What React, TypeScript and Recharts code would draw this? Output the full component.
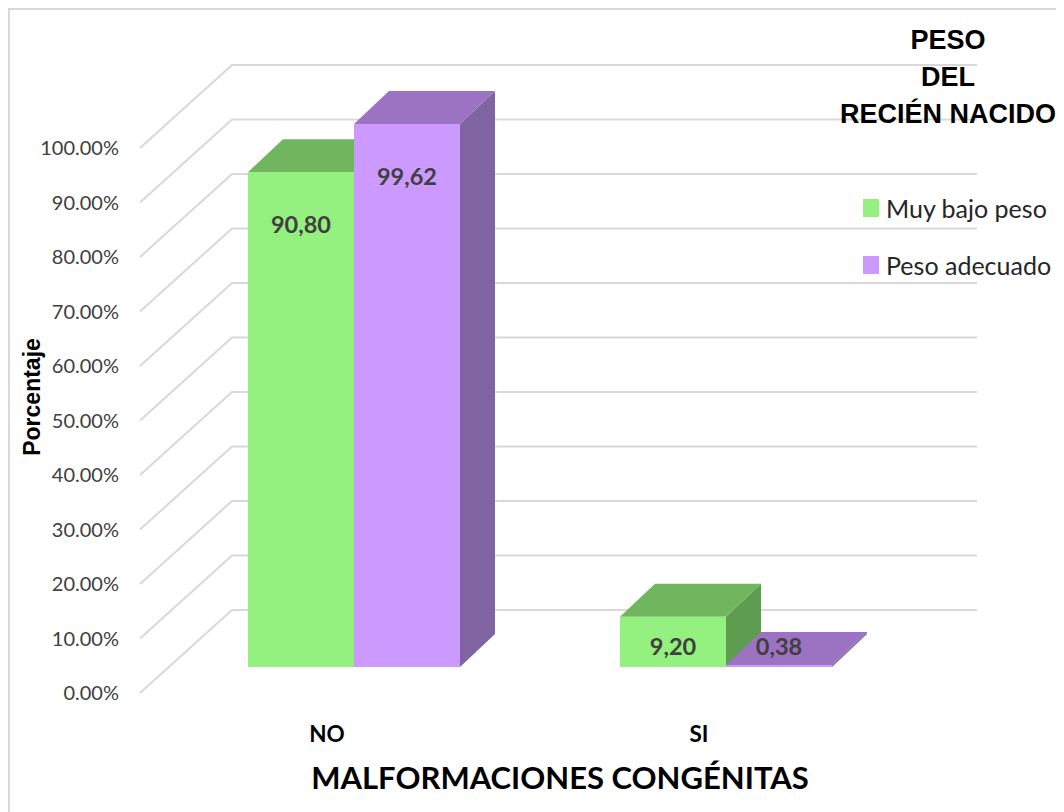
import { BarChart, Bar, XAxis, YAxis, CartesianGrid, Legend, LabelList } from "recharts";

const CATEGORIES = ["NO", "SI"];
const MUY_BAJO_PESO = [90.8, 9.2];
const PESO_ADECUADO = [99.62, 0.38];
const Y_TICKS = [0, 10, 20, 30, 40, 50, 60, 70, 80, 90, 100];
const SERIES_NAMES = ["Muy bajo peso", "Peso adecuado"];
const LEGEND_TITLE = ["PESO", "DEL", "RECIÉN NACIDO"];
const X_TITLE = "MALFORMACIONES CONGÉNITAS";
const Y_TITLE = "Porcentaje";

const data = CATEGORIES.map((name, i) => ({
  name,
  muy: MUY_BAJO_PESO[i],
  adecuado: PESO_ADECUADO[i],
}));

const GREEN = { front: "#95f17f", top: "#70b65f", side: "#5e9c4f" };
const PURPLE = { front: "#cc99ff", top: "#9b73c2", side: "#8064a2" };

// 3d offsets
const DX = 35;
const DY = 33;
const FRONT_DY = 26;
const BACK_DY = 57;

const fmt = (v: number) => v.toFixed(2).replace(".", ",");

const box = (c: { front: string; top: string; side: string }) => (props: any) => {
  const { x, y, width, height } = props;
  const r = x + width;
  const b = y + height;
  return (
    <g>
      <polygon points={`${r},${y} ${r + DX},${y - DY} ${r + DX},${b - DY} ${r},${b}`} fill={c.side} />
      <polygon points={`${x},${y} ${r},${y} ${r + DX},${y - DY} ${x + DX},${y - DY}`} fill={c.top} />
      <rect x={x} y={y} width={width} height={height} fill={c.front} />
    </g>
  );
};

const valueLabel = (props: any) => {
  const { x, y, width, height, value } = props;
  const base = y + height;
  const ty = Math.min(y + 61, base - 12);
  return (
    <text x={x + width / 2} y={ty} textAnchor="middle" fontFamily="Lato" fontWeight={700} fontSize={23.5} fill="#404040">
      {fmt(value)}
    </text>
  );
};

const gridLine = (p: any) => (
  <path
    key={`grid-${p.index}`}
    d={`M${p.x1 - 28},${p.y1 + FRONT_DY} L${p.x1 + 64},${p.y1 - BACK_DY} L${p.x2 + 65},${p.y1 - BACK_DY}`}
    stroke="#d9d9d9"
    strokeWidth={2}
    fill="none"
  />
);

const yTick = (p: any) => (
  <text x={109} y={p.y + FRONT_DY + 7} textAnchor="end" fontFamily="Lato" fontSize={20} fill="#404040">
    {p.payload.value.toFixed(2)}%
  </text>
);

const xTick = (p: any) => (
  <text x={p.x - 27} y={732} textAnchor="middle" fontFamily="Lato" fontWeight={700} fontSize={22.5} fill="#000">
    {p.payload.value}
  </text>
);

const LegendBox = () => (
  <div style={{ fontFamily: "'Liberation Sans', Arial, sans-serif", whiteSpace: "nowrap" }}>
    {LEGEND_TITLE.map((t) => (
      <div key={t} style={{ textAlign: "center", fontSize: 27, fontWeight: 700, lineHeight: "37px", color: "#000" }}>
        {t}
      </div>
    ))}
    <div style={{ marginTop: 46, paddingLeft: 25 }}>
      {SERIES_NAMES.map((n, i) => (
        <div key={n} style={{ display: "flex", alignItems: "center", height: 57 }}>
          <span
            style={{
              display: "inline-block",
              width: 16,
              height: 18,
              background: i === 0 ? GREEN.front : PURPLE.front,
              marginRight: 7,
            }}
          />
          <span style={{ fontFamily: "Lato", fontSize: 25, color: "#262626" }}>{n}</span>
        </div>
      ))}
    </div>
  </div>
);

export default function App() {
  return (
    <div
      style={{
        width: 1056,
        height: 804,
        boxSizing: "border-box",
        borderLeft: "2px solid #d9d9d9",
        borderTop: "2px solid #d9d9d9",
        background: "#fff",
      }}
    >
      <BarChart
        width={1054}
        height={802}
        data={data}
        margin={{ top: 112, right: 152, bottom: 0, left: 0 }}
        barGap={0}
        barSize={106}
      >
        <CartesianGrid vertical={false} horizontal={gridLine} />
        <XAxis
          dataKey="name"
          height={145}
          axisLine={false}
          tickLine={false}
          tick={xTick}
          label={{
            value: X_TITLE,
            content: () => (
              <text x={550} y={779} textAnchor="middle" fontFamily="Lato" fontWeight={700} fontSize={31} fill="#000">
                {X_TITLE}
              </text>
            ),
          }}
        />
        <YAxis
          width={158}
          domain={[0, 100]}
          ticks={Y_TICKS}
          axisLine={false}
          tickLine={false}
          tick={yTick}
          label={{
            value: Y_TITLE,
            content: () => (
              <text
                transform="translate(30,387) rotate(-90)"
                textAnchor="middle"
                fontFamily="'Liberation Sans', Arial, sans-serif"
                fontWeight={700}
                fontSize={23}
                fill="#000"
              >
                {Y_TITLE}
              </text>
            ),
          }}
        />
        <Legend
          layout="vertical"
          align="center"
          verticalAlign="middle"
          wrapperStyle={{ top: 12, left: 828, width: 220, height: 280 }}
          content={() => <LegendBox />}
        />
        <Bar dataKey="muy" name={SERIES_NAMES[0]} fill={GREEN.front} shape={box(GREEN)} isAnimationActive={false}>
          <LabelList dataKey="muy" content={valueLabel} />
        </Bar>
        <Bar dataKey="adecuado" name={SERIES_NAMES[1]} fill={PURPLE.front} shape={box(PURPLE)} isAnimationActive={false}>
          <LabelList dataKey="adecuado" content={valueLabel} />
        </Bar>
      </BarChart>
    </div>
  );
}
